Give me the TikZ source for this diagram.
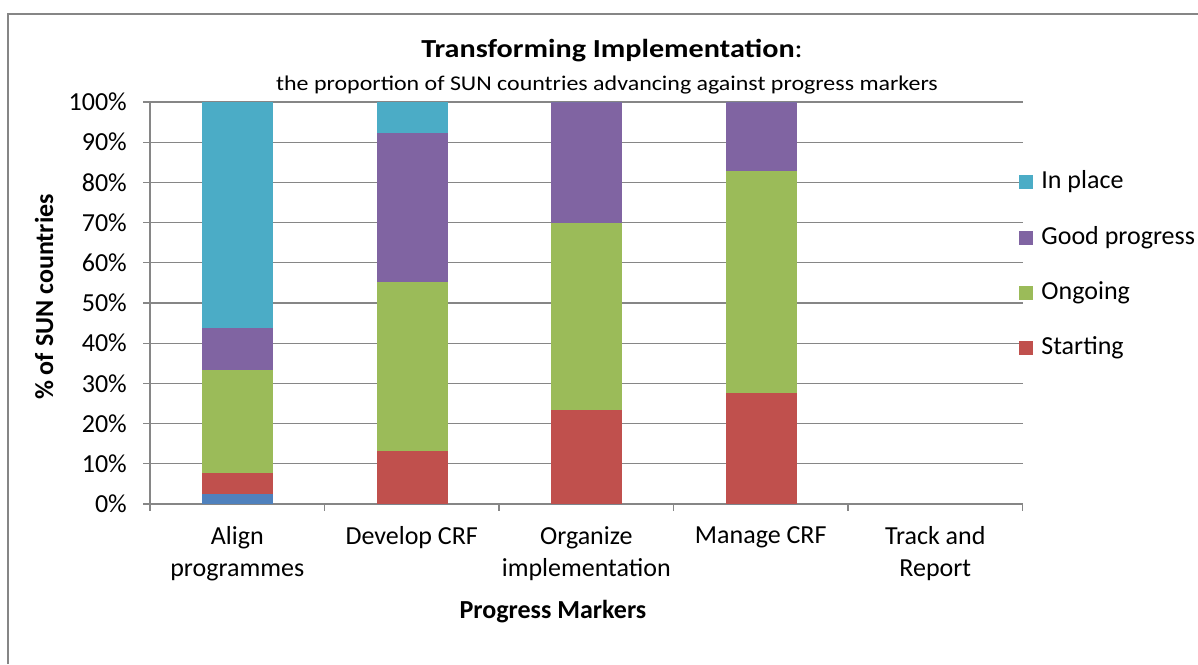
\documentclass[tikz,border=0pt]{standalone}
\usepackage{fontspec}
\setmainfont{Carlito}
\usepackage{tikz}
\usetikzlibrary{positioning}

\definecolor{inplace}{HTML}{4BACC6}
\definecolor{goodprog}{HTML}{8064A2}
\definecolor{ongoing}{HTML}{9BBB59}
\definecolor{starting}{HTML}{C0504D}
\definecolor{notstarted}{HTML}{4F81BD}
\definecolor{gridgray}{HTML}{868686}

\begin{document}
\begin{tikzpicture}[
    x=1pt, y=1pt,
    every node/.style={inner sep=0pt, font=\fontsize{26}{32}\selectfont},
    gridline/.style={draw=gridgray, line width=1.3pt},
    ticklabel/.style={anchor=east},
    catlabel/.style={anchor=north, align=center},
    legendbox/.style={minimum size=14pt, inner sep=0pt},
    legendtext/.style={anchor=west}
  ]
  \useasboundingbox (0,0) rectangle (1198,664);

  % marco
  \draw[gridgray, line width=2.5pt] (8,0) -- (8,650) -- (1198,650);

  % titulos
  \node (title) at (612,613)
    {\scalebox{1.16}[1]{\textbf{Transforming Implementation}:}};
  \node[font=\fontsize{21}{24}\selectfont] (subtitle) at (607,579)
    {\scalebox{1.14}[1]{the proportion of SUN countries advancing against progress markers}};

  \begin{scope}[shift={(150,160)}, y=4.02pt]
    % rejilla y ejes
    \foreach \p in {0,10,...,100} {
      \draw[gridline] (-7,\p) -- (872.5,\p);
      \node[ticklabel] (tick\p) at (-23,\p) {\p\%};
    }
    \draw[gridline] (0,0) -- (0,100);
    \foreach \i in {0,...,5}
      \draw[gridline] (\i*174.5,0) -- (\i*174.5,-1.75);

    % barras
    \foreach \k/\ya/\yb/\yc/\yd in {0/2.5/7.6/33.4/43.8, 1/0/13.1/55.2/92.3,
                                    2/0/23.3/70/100, 3/0/27.7/82.8/100} {
      \pgfmathsetmacro\xl{\k*174.5+52}
      \pgfmathsetmacro\xr{\xl+71}
      \fill[notstarted] (\xl,0) rectangle (\xr,\ya);
      \fill[starting] (\xl,\ya) rectangle (\xr,\yb);
      \fill[ongoing] (\xl,\yb) rectangle (\xr,\yc);
      \fill[goodprog] (\xl,\yc) rectangle (\xr,\yd);
      \fill[inplace] (\xl,\yd) rectangle (\xr,100);
    }
  \end{scope}

  % categorias
  \node[catlabel] (align) at (237.25,138) {Align\\programmes};
  \node[catlabel] (develop) at (411.75,138) {Develop CRF};
  \node[catlabel] (organize) at (586.25,138) {Organize\\implementation};
  \node[catlabel] (manage) at (760.75,138) {Manage CRF};
  \node[catlabel] (track) at (935.25,138) {Track and\\Report};

  % titulos de ejes
  \node (xtitle) at (553,52) {\textbf{Progress Markers}};
  \node[rotate=90] (ytitle) at (44,367) {\textbf{\% of SUN countries}};

  % leyenda
  \node[legendbox, fill=inplace] (leg1) at (1026,482) {};
  \node[legendbox, fill=goodprog] (leg2) at (1026,426) {};
  \node[legendbox, fill=ongoing] (leg3) at (1026,371) {};
  \node[legendbox, fill=starting] (leg4) at (1026,316) {};
  \node[legendtext, right=8pt of leg1] (legtxt1) {In place};
  \node[legendtext, right=8pt of leg2] (legtxt2) {Good progress};
  \node[legendtext, right=8pt of leg3] (legtxt3) {Ongoing};
  \node[legendtext, right=8pt of leg4] (legtxt4) {Starting};
\end{tikzpicture}
\end{document}
